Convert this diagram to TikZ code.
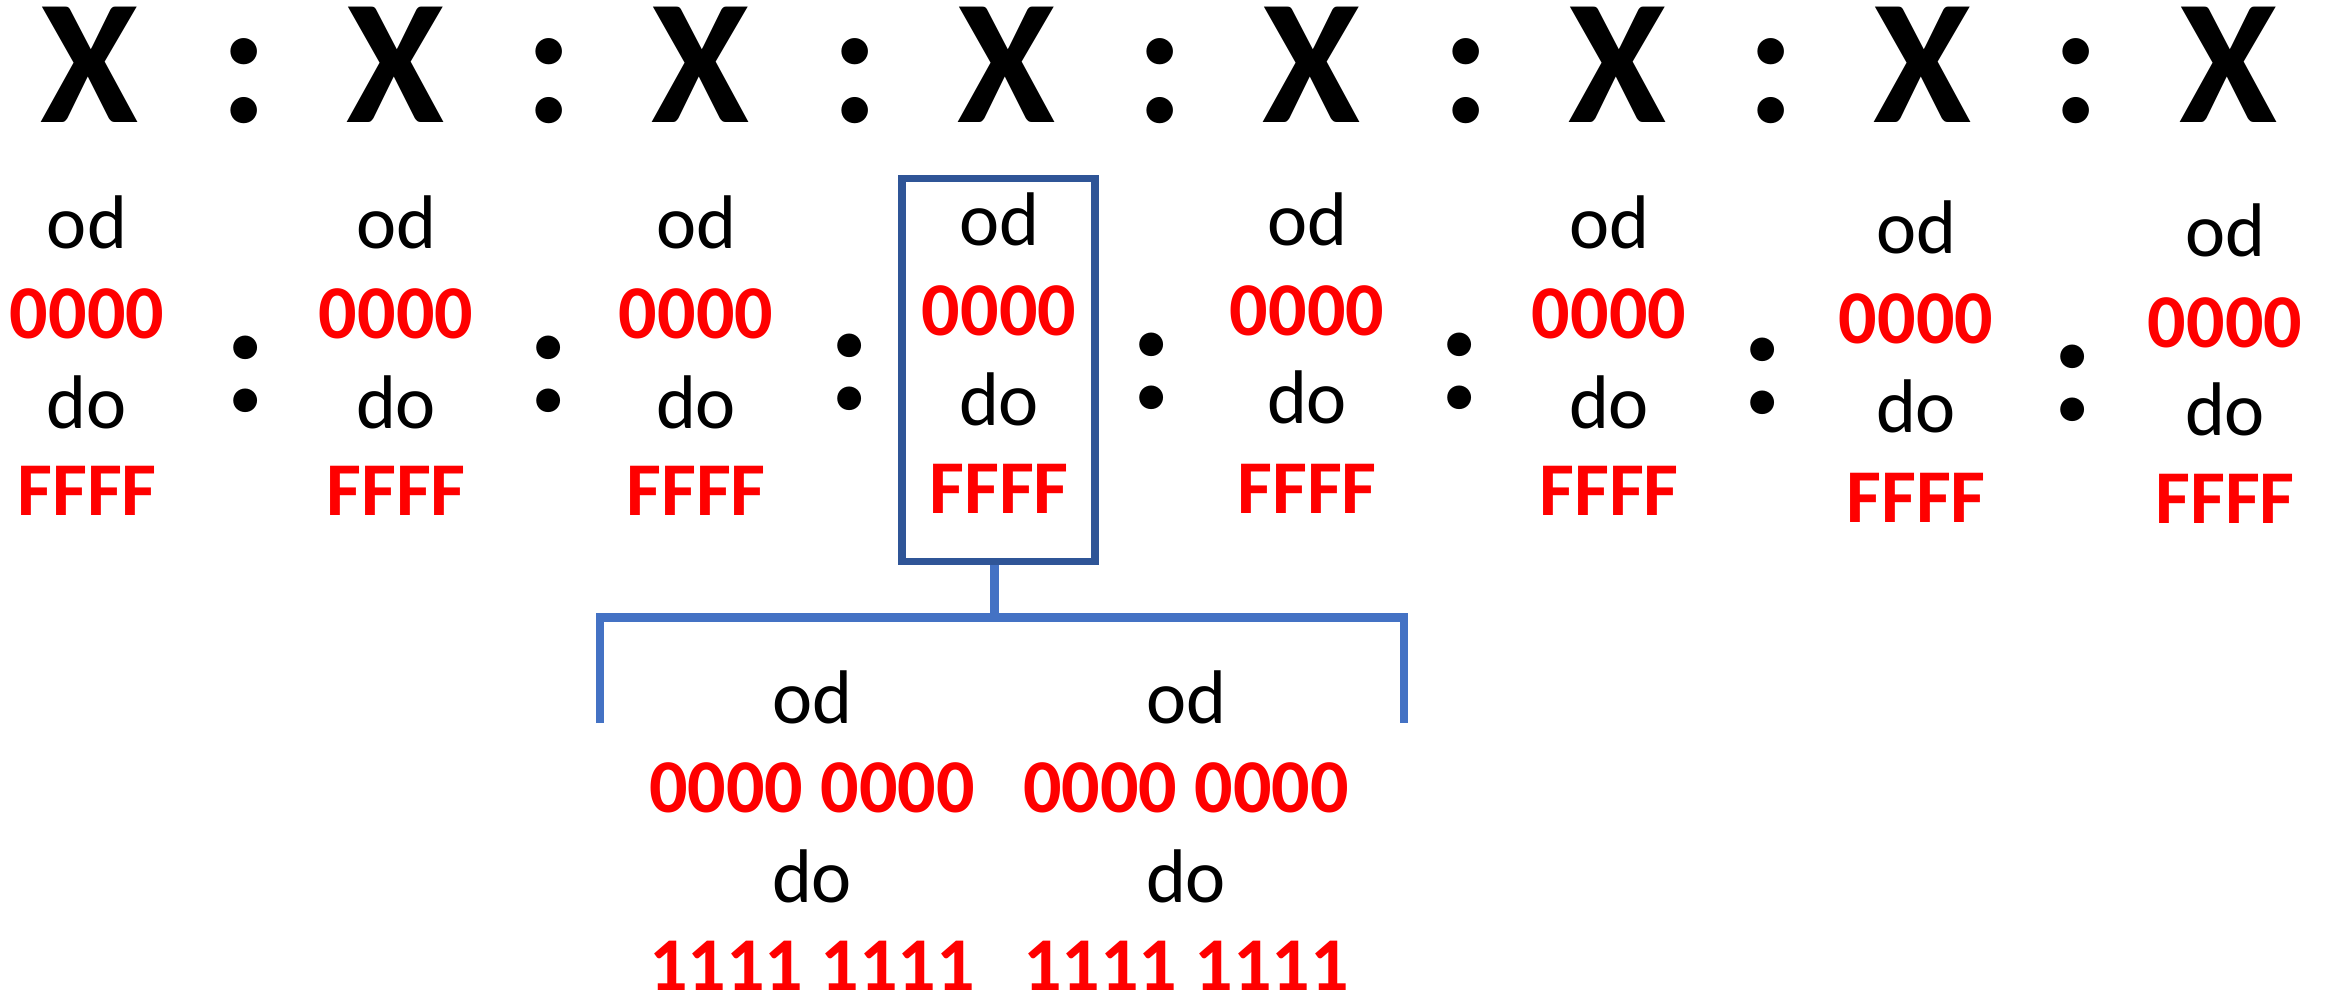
\documentclass[tikz,border=0pt]{standalone}
\usepackage{fontspec}
\setmainfont{Carlito}
\definecolor{boxblue}{RGB}{47,85,151}
\definecolor{brkblue}{RGB}{68,114,196}
\definecolor{numred}{RGB}{255,0,0}
\tikzset{
  bigx/.style={font=\fontsize{89}{89}\selectfont\bfseries, anchor=base, inner sep=0pt, text height=57pt, text depth=0pt},
  topcolon/.style={font=\fontsize{89}{89}\selectfont\bfseries, anchor=base, inner sep=0pt, text height=57pt, text depth=0pt},
  lowcolon/.style={font=\fontsize{80}{80}\selectfont\bfseries, anchor=base, inner sep=0pt, text height=40pt, text depth=0pt},
  wrd/.style={font=\fontsize{38}{38}\selectfont, anchor=base, inner sep=0pt},
  num/.style={font=\fontsize{38}{38}\selectfont\bfseries, text=numred, anchor=base, inner sep=0pt},
  bwrd/.style={font=\fontsize{38}{38}\selectfont, anchor=base, inner sep=0pt},
  bnum/.style={font=\fontsize{38}{38}\selectfont\bfseries, text=numred, anchor=base, inner sep=0pt, text height=25pt, text depth=0pt},
  selbox/.style={draw=boxblue, line width=3.6pt, minimum width=96.5pt, minimum height=191.5pt, inner sep=0pt},
  brk/.style={draw=brkblue, line width=4.3pt, line join=miter},
}
\begin{document}
\begin{tikzpicture}[x=0.5pt, y=-0.5pt]
\useasboundingbox (0,0) rectangle (2328,993);
% top row X : X ...
\foreach \i/\xx in {1/90, 2/395.4, 3/700.9, 4/1006.3, 5/1311.7, 6/1617, 7/1922.6, 8/2228}
  \node[bigx] (X\i) at (\xx,122) {X};
\foreach \i/\xx in {1/244, 2/549.4, 3/854.8, 4/1160, 5/1465.6, 6/1771, 7/2076}
  \node[topcolon] (tc\i) at (\xx,122) {:};
% columns: index / x / od baseline / 0000 baseline / do baseline / FFFF baseline
\foreach \i/\xx/\ya/\yb/\yc/\yd in {
  1/87/248/338/428/515,
  2/396/248/338/428/515,
  3/696/248/338/428/515,
  4/999/245/335/425/513,
  5/1307/245/335/423/513,
  6/1609/248/338/428/515,
  7/1916/253/343/432/522,
  8/2225/256/347/435/523}{
  \node[wrd] (od\i) at (\xx,\ya) {od};
  \node[num] (lo\i) at (\xx,\yb) {0000};
  \node[wrd] (do\i) at (\xx,\yc) {do};
  \node[num] (hi\i) at (\xx,\yd) {FFFF};
}
% lower colons
\foreach \i/\xx/\yy in {1/246/411, 2/549/411, 3/850/409, 4/1152/408, 5/1460/408, 6/1763/413, 7/2073/420}
  \node[lowcolon] (lc\i) at (\xx,\yy) {:};
% highlighted box around column 4
\node[selbox] (box) at (998.5,370) {};
% bracket
\coordinate (bm) at (994.5,617.5);
\coordinate (bl) at (600,723);
\coordinate (br) at (1404,723);
\draw[brk] (box.south -| bm) -- (bm);
\draw[brk] (bl) -- (bl |- bm) -- (br |- bm) -- (br);
% bottom columns
\foreach \i/\xx in {1/812, 2/1186}{
  \node[bwrd] (bod\i) at (\xx,723) {od};
  \node[bnum] (blo\i) at (\xx,812) {0000 0000};
  \node[bwrd] (bdo\i) at (\xx,902) {do};
  \node[bnum] (bhi\i) at (\xx,990) {1111 1111};
}
\end{tikzpicture}
\end{document}
